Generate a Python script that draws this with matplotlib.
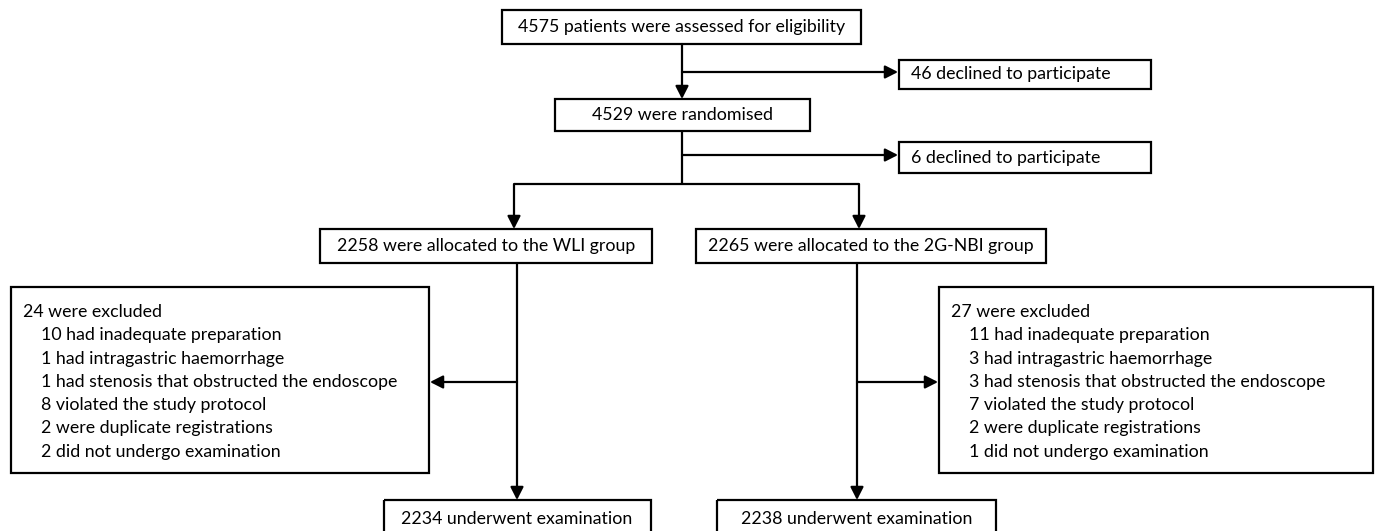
import matplotlib
matplotlib.use("Agg")
import matplotlib.pyplot as plt
from matplotlib.patches import Rectangle

# ---- data ----
assessed = 4575
declined = [46, 6]
randomised = 4529
groups = ["WLI", "2G-NBI"]
allocated = [2258, 2265]
excluded_total = [24, 27]
reasons = ["had inadequate preparation", "had intragastric haemorrhage",
           "had stenosis that obstructed the endoscope", "violated the study protocol",
           "were duplicate registrations", "did not undergo examination"]
reason_counts_wli = [10, 1, 1, 8, 2, 2]
reason_counts_nbi = [11, 3, 3, 7, 2, 1]
examined = [2234, 2238]

W, H = 1378, 531
fig = plt.figure(figsize=(W / 100, H / 100), dpi=100)
ax = fig.add_axes([0, 0, 1, 1])
ax.set_xlim(0, W)
ax.set_ylim(H, 0)
ax.axis("off")

FONT = "Lato"
LW = 1.6

# fit font size so the top label is ~328 px wide
probe = fig.text(0, 0, f"{assessed} patients were assessed for eligibility", fontsize=10, family=FONT)
fig.canvas.draw()
w10 = probe.get_window_extent().width
probe.remove()
FS = 10 * 328 / w10


def box(x0, y0, x1, y1):
    ax.add_patch(Rectangle((x0, y0), x1 - x0, y1 - y0, fill=False, lw=LW, ec="black"))


def line(xs, ys):
    ax.plot(xs, ys, color="black", lw=LW, solid_capstyle="butt")


def arrow(x0, y0, x1, y1):
    ax.annotate("", xy=(x1, y1), xytext=(x0, y0),
                arrowprops=dict(arrowstyle="-|>,head_length=0.55,head_width=0.28",
                                lw=LW, color="black", shrinkA=0, shrinkB=0,
                                mutation_scale=14))


def ctext(x, y, s):
    ax.text(x, y, s, ha="center", va="center", fontsize=FS, family=FONT)


def ltext(x, y, s):
    ax.text(x, y, s, ha="left", va="center", fontsize=FS, family=FONT)


# top
box(502, 10, 861, 44)
ctext(682, 27, f"{assessed} patients were assessed for eligibility")
arrow(682, 44, 682, 99)
arrow(682, 72, 898, 72)
box(899, 60, 1151, 89)
ltext(911, 74.5, f"{declined[0]} declined to participate")

box(555, 99, 810, 131)
ctext(682, 115, f"{randomised} were randomised")
line([682, 682], [131, 184])
arrow(682, 155, 898, 155)
box(899, 142, 1151, 173)
ltext(911, 157.5, f"{declined[1]} declined to participate")

line([514, 859], [184, 184])
arrow(514, 184, 514, 229)
arrow(859, 184, 859, 229)

box(320, 229, 652, 263)
ctext(486, 246, f"{allocated[0]} were allocated to the {groups[0]} group")
box(696, 229, 1046, 263)
ctext(871, 246, f"{allocated[1]} were allocated to the {groups[1]} group")

# exclusions
arrow(517, 263, 517, 500)
arrow(517, 382, 430, 382)
arrow(857, 263, 857, 500)
arrow(857, 382, 938, 382)

box(11, 287, 429, 473)
box(939, 287, 1373, 473)
spacing = 23.3
for (x_txt, x_ind, tot, counts) in [(23, 41, excluded_total[0], reason_counts_wli),
                                     (951, 969, excluded_total[1], reason_counts_nbi)]:
    ltext(x_txt, 312, f"{tot} were excluded")
    for i, (c, r) in enumerate(zip(counts, reasons)):
        ltext(x_ind, 312 + spacing * (i + 1), f"{c} {r}")

# bottom
box(384, 500, 651, 545)
ctext(517, 519, f"{examined[0]} underwent examination")
box(717, 500, 996, 545)
ctext(857, 519, f"{examined[1]} underwent examination")

fig.savefig("out.png", dpi=100, facecolor="white")
